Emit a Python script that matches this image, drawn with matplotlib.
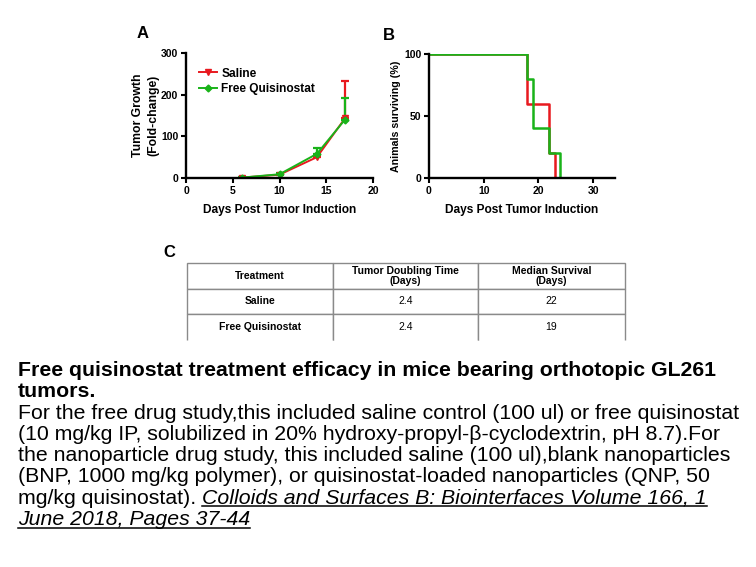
import matplotlib
matplotlib.use("Agg")
import matplotlib.pyplot as plt
from matplotlib.lines import Line2D

# Panel A data
days_growth = [6, 10, 14, 17]
saline_growth = [1, 8, 50, 143]
saline_err = [1, 2, 5, 90]
quis_growth = [1, 9, 58, 140]
quis_err = [1, 2, 14, 52]

# Panel B data (step survival)
saline_surv_days = [0, 18, 22, 23]
saline_surv = [100, 60, 20, 0]
quis_surv_days = [0, 18, 19, 22, 24]
quis_surv = [100, 80, 40, 20, 0]

# Panel C table
col_labels = ["Treatment", "Tumor Doubling Time\n(Days)", "Median Survival\n(Days)"]
rows = [["Saline", "2.4", "22"], ["Free Quisinostat", "2.4", "19"]]

# Caption
title_lines = ["Free quisinostat treatment efficacy in mice bearing orthotopic GL261", "tumors."]
body_lines = ["For the free drug study,this included saline control (100 ul) or free quisinostat",
              "(10 mg/kg IP, solubilized in 20% hydroxy-propyl-\u03b2-cyclodextrin, pH 8.7).For",
              "the nanoparticle drug study, this included saline (100 ul),blank nanoparticles",
              "(BNP, 1000 mg/kg polymer), or quisinostat-loaded nanoparticles (QNP, 50",
              "mg/kg quisinostat). "]
cite_lines = ["Colloids and Surfaces B: Biointerfaces Volume 166, 1", "June 2018, Pages 37-44"]

RED = '#e8191f'
GREEN = '#19b319'

plt.rcParams['font.family'] = ['Liberation Sans', 'DejaVu Sans']
fig = plt.figure(figsize=(7.56, 5.67), dpi=100)
W, H = 756, 567

def ax_at(l, r, t, b):
    return fig.add_axes([l / W, 1 - b / H, (r - l) / W, (b - t) / H])

def style(ax):
    for s in ['top', 'right']:
        ax.spines[s].set_visible(False)
    for s in ['left', 'bottom']:
        ax.spines[s].set_linewidth(1.7)
    ax.tick_params(width=1.5, length=3.5, labelsize=7.5, pad=2)
    for lab in ax.get_xticklabels() + ax.get_yticklabels():
        lab.set_fontweight('bold')

# Panel A
axA = ax_at(186, 373, 53, 178)
axA.errorbar(days_growth, saline_growth, yerr=[[0] * 4, saline_err], color=RED, marker='v',
             markersize=4.5, lw=1.4, capsize=3, elinewidth=1.6, capthick=1.6)
axA.errorbar(days_growth, quis_growth, yerr=[[0] * 4, quis_err], color=GREEN, marker='D',
             markersize=3.5, lw=1.4, capsize=3, elinewidth=1.6, capthick=1.6)
axA.set_xlim(0, 20)
axA.set_ylim(0, 300)
axA.set_xticks([0, 5, 10, 15, 20])
axA.set_yticks([0, 100, 200, 300])
style(axA)
axA.set_xlabel('Days Post Tumor Induction', fontsize=8.6, fontweight='bold', labelpad=6)
axA.set_ylabel('Tumor Growth\n(Fold-change)', fontsize=8.8, fontweight='bold', labelpad=1.5, linespacing=1.3)
handles = [Line2D([], [], color=RED, marker='v', markersize=4.5, lw=1.4),
           Line2D([], [], color=GREEN, marker='D', markersize=3.5, lw=1.4)]
leg = axA.legend(handles, ['Saline', 'Free Quisinostat'], loc='upper left', bbox_to_anchor=(0.03, 0.94),
                 frameon=False, fontsize=8.6, handlelength=1.5, borderaxespad=0.2,
                 labelspacing=0.3, handletextpad=0.4)
for t in leg.get_texts():
    t.set_fontweight('bold')
fig.text(137 / W, 1 - 34 / H, 'A', fontsize=12, fontweight='bold', va='center')

# Panel B
axB = ax_at(429, 615, 54, 178)
axB.step(saline_surv_days + [saline_surv_days[-1]], saline_surv + [0], where='post', color=RED, lw=1.8)
axB.step(quis_surv_days + [quis_surv_days[-1]], quis_surv + [0], where='post', color=GREEN, lw=1.8)
axB.set_xlim(0, 34)
axB.set_ylim(0, 100)
axB.set_xticks([0, 10, 20, 30])
axB.set_yticks([0, 50, 100])
style(axB)
axB.set_xlabel('Days Post Tumor Induction', fontsize=8.6, fontweight='bold', labelpad=6)
axB.set_ylabel('Animals surviving (%)', fontsize=7.7, fontweight='bold', labelpad=2)
fig.text(383 / W, 1 - 36 / H, 'B', fontsize=12, fontweight='bold', va='center')

# Panel C
fig.text(163 / W, 1 - 253 / H, 'C', fontsize=12, fontweight='bold', va='center')
axC = ax_at(187, 625, 263, 340)
axC.axis('off')
tbl = axC.table(cellText=rows, colLabels=col_labels, bbox=[0, 0, 1, 1],
                colWidths=[146, 145, 147], cellLoc='center')
tbl.auto_set_font_size(False)
for (r, c), cell in tbl.get_celld().items():
    cell.set_edgecolor('#8a8a8a')
    cell.set_linewidth(1.0)
    cell.get_text().set_fontsize(7.5)
    cell.get_text().set_linespacing(1.0)
    if r == 0 or c == 0:
        cell.get_text().set_fontweight('bold')
    if r == 2:
        cell.visible_edges = 'LRT'

# Caption, one text per line
FS = 15.3
x0 = 18 / W
baselines = [376, 397.3, 418.6, 439.9, 461.2, 482.5, 503.8, 525.1]
for i, line in enumerate(title_lines):
    fig.text(x0, 1 - baselines[i] / H, line, fontsize=FS, fontweight='bold', va='baseline')
body_texts = []
for i, line in enumerate(body_lines):
    body_texts.append(fig.text(x0, 1 - baselines[2 + i] / H, line, fontsize=FS, va='baseline'))

fig.canvas.draw()
rend = fig.canvas.get_renderer()
last_bb = body_texts[-1].get_window_extent(rend)
cx = last_bb.x1 / W
c1 = fig.text(cx, 1 - baselines[6] / H, cite_lines[0], fontsize=FS, style='italic', va='baseline')
c2 = fig.text(x0, 1 - baselines[7] / H, cite_lines[1], fontsize=FS, style='italic', va='baseline')
fig.canvas.draw()
for t, bl in [(c1, baselines[6]), (c2, baselines[7])]:
    bb = t.get_window_extent(rend)
    y = 1 - (bl + 2.5) / H
    fig.add_artist(Line2D([bb.x0 / W, bb.x1 / W], [y, y], color='black', lw=1.1))

fig.savefig('out.png', dpi=100)
